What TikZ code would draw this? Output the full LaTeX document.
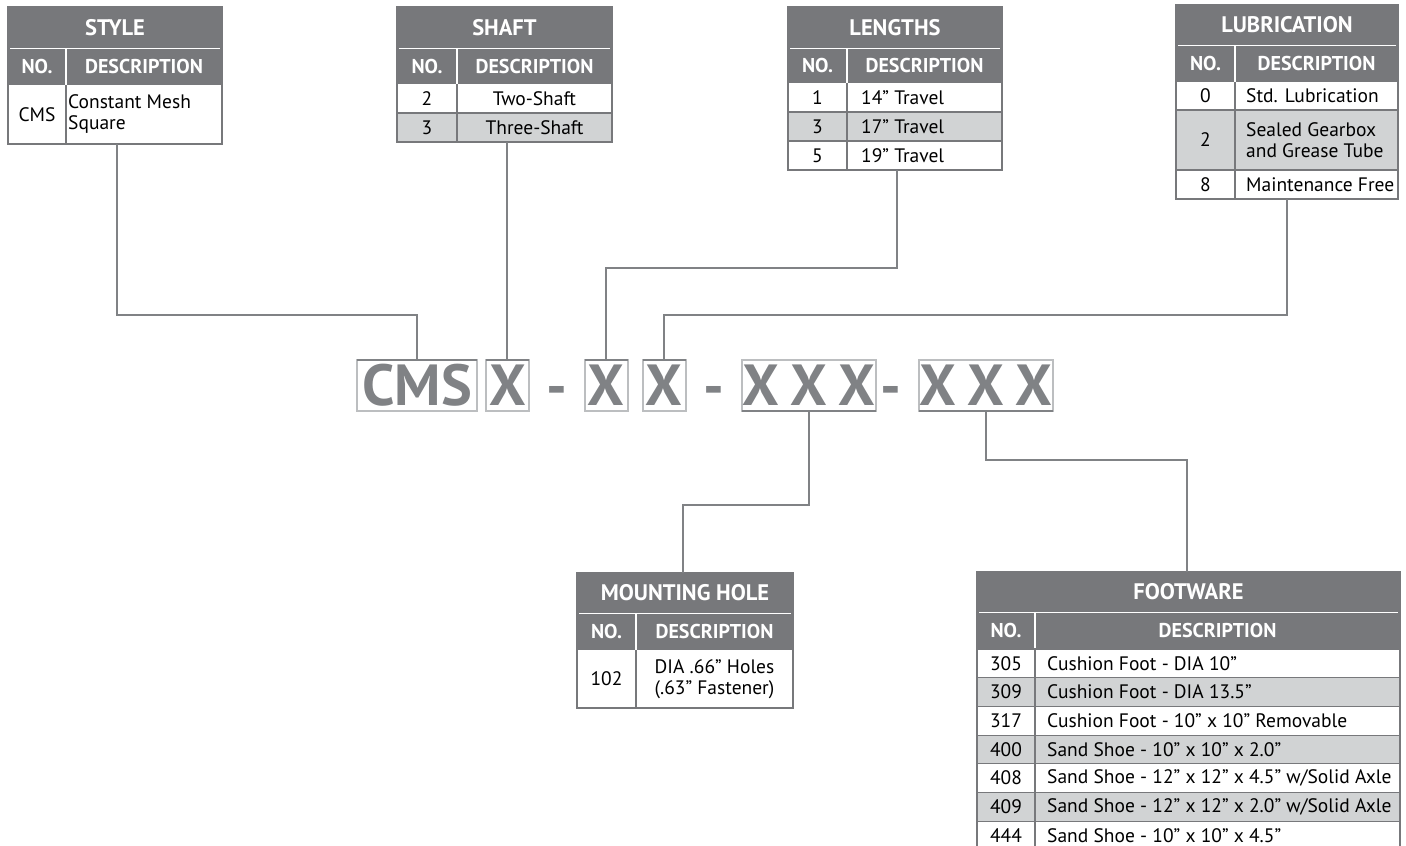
\documentclass[tikz,border=0pt]{standalone}
\usepackage{fontspec}
\setmainfont{PT Sans}
\usetikzlibrary{calc,positioning}

\definecolor{hdr}{RGB}{119,120,123}
\definecolor{rowgray}{RGB}{209,211,212}
\definecolor{lnk}{RGB}{128,130,133}
\definecolor{boxln}{RGB}{188,190,192}

\tikzset{
  link/.style={lnk,line width=2.5pt},
  frame/.style={hdr,line width=2pt},
  grid/.style={hdr,line width=1.2pt},
  ttl/.style={text=white,inner sep=0,font=\bfseries\fontsize{22.5}{24}\selectfont},
  colhd/.style={text=white,inner sep=0,font=\bfseries\fontsize{20}{22}\selectfont},
  cell/.style={inner sep=0,align=left,font=\fontsize{19.5}{21}\selectfont},
  code/.style={draw=boxln,line width=2pt,outer sep=0,inner sep=0,text=lnk,
    minimum height=51pt,font=\bfseries\fontsize{58}{58}\selectfont},
  dashtxt/.style={inner sep=0,anchor=base,text=lnk,font=\bfseries\fontsize{58}{58}\selectfont},
  edge/.style={lnk,line width=2.5pt},
}

% dark title band, header row and the two column heads
\newcommand\tabtop[8]{%
  \fill[hdr] (#2,#5) rectangle (#4,#7);
  \draw[white,line width=1pt] (#2+2,#6) -- (#4-2,#6);
  \draw[white,line width=1.5pt] (#3,#6) -- (#3,#7);
  \node[ttl] (#1-t) at ({(#2+#4)/2},{(#5+#6)/2}) {#8};
  \node[colhd] (#1-no) at ({(#2+#3)/2},{(#6+#7)/2}) {NO.};
  \node[colhd] (#1-desc) at ({(#3+#4)/2},{(#6+#7)/2}) {DESCRIPTION};
}

\begin{document}
\begin{tikzpicture}[x=1pt,y=-1pt,line join=miter]
  \useasboundingbox (0,0) rectangle (1406,846);

  % style
  \tabtop{style}{8}{66}{222}{7}{48}{85}{STYLE}
  \draw[grid] (66,85) -- (66,144);
  \draw[frame] (8,7) rectangle (222,144);
  \node[cell] (style-1) at (37,114.5) {CMS};
  \node[cell,anchor=west] (style-1d) at (68,114.5) {Constant Mesh\\Square};
  \coordinate (style-b) at (117,144);

  % shaft
  \tabtop{shaft}{397}{457}{612}{7}{48}{84}{SHAFT}
  \fill[rowgray] (397,113) rectangle (612,142);
  \draw[grid] (397,113) -- (612,113);
  \draw[grid] (457,84) -- (457,142);
  \draw[frame] (397,7) rectangle (612,142);
  \node[cell] (shaft-2) at (427,98.5) {2};
  \node[cell] (shaft-2d) at (534.5,98.5) {Two-Shaft};
  \node[cell] (shaft-3) at (427,127.5) {3};
  \node[cell] (shaft-3d) at (534.5,127.5) {Three-Shaft};
  \coordinate (shaft-b) at (507,142);

  % lengths
  \tabtop{len}{788}{847}{1002}{7}{48}{83}{LENGTHS}
  \fill[rowgray] (788,112) rectangle (1002,141);
  \draw[grid] (788,112) -- (1002,112);
  \draw[grid] (788,141) -- (1002,141);
  \draw[grid] (847,83) -- (847,170);
  \draw[frame] (788,7) rectangle (1002,170);
  \node[cell] (len-1) at (817.5,97.5) {1};
  \node[cell,anchor=west] (len-1d) at (861,97.5) {14” Travel};
  \node[cell] (len-3) at (817.5,126.5) {3};
  \node[cell,anchor=west] (len-3d) at (861,126.5) {17” Travel};
  \node[cell] (len-5) at (817.5,155.5) {5};
  \node[cell,anchor=west] (len-5d) at (861,155.5) {19” Travel};
  \coordinate (len-b) at (897,170);

  % lubrication
  \tabtop{lub}{1176}{1235}{1398}{5}{45}{82}{LUBRICATION}
  \fill[rowgray] (1176,110) rectangle (1398,170);
  \draw[grid] (1176,110) -- (1398,110);
  \draw[grid] (1176,170) -- (1398,170);
  \draw[grid] (1235,82) -- (1235,199);
  \draw[frame] (1176,5) rectangle (1398,199);
  \node[cell] (lub-0) at (1205.5,96) {0};
  \node[cell,anchor=west] (lub-0d) at (1246,96) {Std. Lubrication};
  \node[cell] (lub-2) at (1205.5,140) {2};
  \node[cell,anchor=west] (lub-2d) at (1246,140) {Sealed Gearbox\\and Grease Tube};
  \node[cell] (lub-8) at (1205.5,184.5) {8};
  \node[cell,anchor=west] (lub-8d) at (1246,184.5) {Maintenance Free};
  \coordinate (lub-b) at (1287,199);

  % mounting hole
  \tabtop{mount}{577}{636}{793}{573}{613}{650}{MOUNTING HOLE}
  \draw[grid] (636,650) -- (636,708);
  \draw[frame] (577,573) rectangle (793,708);
  \node[cell] (mount-102) at (606.5,679) {102};
  \node[cell,align=center] (mount-102d) at (714.5,679) {DIA .66” Holes\\(.63” Fastener)};
  \coordinate (mount-t) at (683,573);

  % footware
  \tabtop{foot}{977}{1035}{1400}{572}{612}{649}{FOOTWARE}
  \foreach \n/\c/\d [count=\i from 0] in {
      305/white/{Cushion Foot - DIA 10”},
      309/rowgray/{Cushion Foot - DIA 13.5”},
      317/white/{Cushion Foot - 10” x 10” Removable},
      400/rowgray/{Sand Shoe - 10” x 10” x 2.0”},
      408/white/{Sand Shoe - 12” x 12” x 4.5” w/Solid Axle},
      409/rowgray/{Sand Shoe - 12” x 12” x 2.0” w/Solid Axle},
      444/white/{Sand Shoe - 10” x 10” x 4.5”}} {
    \fill[\c] (977,649+\i*28.7) rectangle (1400,677.7+\i*28.7);
    \draw[grid] (977,649+\i*28.7) -- (1400,649+\i*28.7);
    \node[cell] (foot-\n) at (1006,663.35+\i*28.7) {\n};
    \node[cell,anchor=west] (foot-\n d) at (1047,663.35+\i*28.7) {\d};
  }
  \draw[grid] (1035,649) -- (1035,860);
  \draw[frame] (977,860) -- (977,572) -- (1400,572) -- (1400,860);
  \coordinate (foot-t) at (1187,572);

  % the part number
  \node[code,minimum width=120] (cms) at (417,385.5) {CMS};
  \node[code,minimum width=43] (shx) at (507.5,385.5) {X};
  \node[dashtxt] (d1) at (556.5,406) {-};
  \node[code,minimum width=43] (lx1) at (606,385.5) {X};
  \node[code,minimum width=43] (lx2) at (664,385.5) {X};
  \node[dashtxt] (d2) at (713.5,406) {-};
  \node[code,minimum width=134] (mx) at (809,385.5) {X\hspace{11pt}X\hspace{11pt}X};
  \node[dashtxt] (d3) at (891,406) {-};
  \node[code,minimum width=134] (fx) at (986,385.5) {X\hspace{11pt}X\hspace{11pt}X};
  \foreach \b in {cms,shx,lx1,lx2}
    \draw[edge] (\b.north west) -- (\b.north east);
  \foreach \b in {mx,fx}
    \draw[edge] (\b.south west) -- (\b.south east);

  % connectors
  \draw[link] (style-b) -- ++(0,171) -| (cms.north);
  \draw[link] (shaft-b) -- (shaft-b |- shx.north);
  \draw[link] (len-b) -- ++(0,98) -| (lx1.north);
  \draw[link] (lub-b) -- ++(0,116) -| (lx2.north);
  \draw[link] (mx.south) -- ++(0,94) -| (mount-t);
  \draw[link] (fx.south) -- ++(0,49) -| (foot-t);
\end{tikzpicture}
\end{document}
